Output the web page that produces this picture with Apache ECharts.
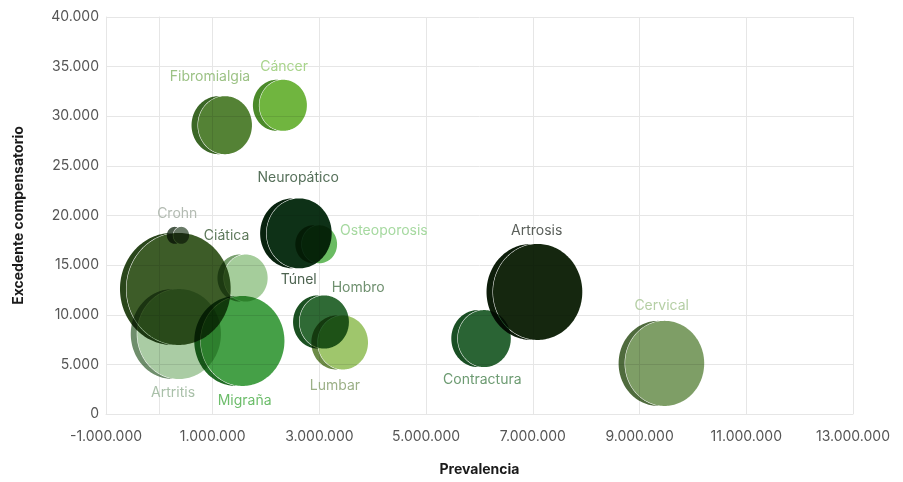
<!DOCTYPE html>
<html>
<head>
<meta charset="utf-8">
<script src="https://cdn.jsdelivr.net/npm/echarts@6/dist/echarts.min.js"></script>
<style>
  html, body { margin: 0; padding: 0; background: #fff; }
  #chart { width: 903px; height: 482px; }
</style>
</head>
<body>
<div id="chart"></div>
<script>
// datos
const nombres = ['Fibromialgia', 'Cáncer', 'Neuropático', 'Osteoporosis', 'Crohn', 'Ciática', 'Túnel',
  'Artritis', 'Migraña', 'Hombro', 'Lumbar', 'Contractura', 'Artrosis', 'Cervical'];
const prevalencia = [1230000, 2320000, 2620000, 3000000, 410000, 360000, 1620000,
  370000, 1560000, 3090000, 3440000, 6090000, 7090000, 9470000];
const excedente = [29100, 31100, 18200, 17100, 18000, 12600, 13700,
  8060, 7360, 9270, 7200, 7600, 12300, 5100];
const tamano = [210, 163, 306, 90, 18, 784, 138, 506, 506, 176, 182, 203, 576, 452];

// colores: cara, lateral, etiqueta
const colores = {
  'Fibromialgia': ['#548235', '#3b6726', '#9cc285'],
  'Cáncer': ['#70b53f', '#4b8a2a', '#a9d48c'],
  'Neuropático': ['#0e3117', '#08220e', '#56705a'],
  'Osteoporosis': ['#6abb62', '#44903f', '#a6d9a0'],
  'Crohn': ['#697a67', '#4a5a49', '#b3bbb2'],
  'Ciática': ['#3d5c28', '#2a461b', '#5f7a5c'],
  'Túnel': ['#a5cd9b', '#789f6e', '#4d6350'],
  'Artritis': ['#aacca4', '#6f8e6c', '#a9c0a9'],
  'Migraña': ['#45a047', '#216b25', '#6dbd6b'],
  'Hombro': ['#2f6a35', '#1b5021', '#6f906f'],
  'Lumbar': ['#9fc66c', '#6c8b47', '#9cb087'],
  'Contractura': ['#2a6434', '#1a4f24', '#6d9b72'],
  'Artrosis': ['#15270f', '#0d1d0a', '#5a5f5a'],
  'Cervical': ['#7e9e66', '#4f6b3d', '#b5cfa5']
};

// posicion de etiquetas: lado, desplazamiento, separacion
const etiquetas = {
  'Fibromialgia': ['top', -15, 12],
  'Cáncer': ['top', 1, 6],
  'Neuropático': ['top', -1, 14],
  'Osteoporosis': ['right', -13, 3],
  'Crohn': ['top', -4, 6],
  'Ciática': ['top', 48, -10],
  'Túnel': ['right', 2, 13],
  'Artritis': ['bottom', -6, 7],
  'Migraña': ['bottom', 2, 8],
  'Hombro': ['top', 34, 1],
  'Lumbar': ['bottom', -8, 9],
  'Contractura': ['bottom', -2, 6],
  'Artrosis': ['top', -1, 6],
  'Cervical': ['top', -3, 8]
};

const chart = echarts.init(document.getElementById('chart'));

function miles(v) {
  const s = String(Math.abs(v)).replace(/\B(?=(\d{3})+(?!\d))/g, '.');
  return (v < 0 ? '-' : '') + s;
}

function renderItem(params, api) {
  const nombre = nombres[params.dataIndex];
  const col = colores[nombre];
  const et = etiquetas[nombre];
  const p = api.coord([api.value(0), api.value(1)]);
  const d = Math.sqrt(api.value(2)) * 4;
  const ry = d / 2, rx = ry * 0.93;
  const cx = p[0], cy = p[1], bx = cx - 6.5;
  const gx = rx + 0.5, gy = ry + 0.5;
  const N = 180;

  const cara = [];
  for (let k = 0; k < N; k++) {
    const t = k / N * 2 * Math.PI;
    cara.push([cx + rx * Math.cos(t), cy + ry * Math.sin(t)]);
  }
  // lateral oscuro en forma de media luna
  const lado = [];
  for (let k = 0; k <= N; k++) {
    const t = k / N * 2 * Math.PI;
    const x = bx + rx * Math.cos(t), y = cy + ry * Math.sin(t);
    if (((x - cx) / gx) ** 2 + ((y - cy) / gy) ** 2 > 1) lado.push([x, y]);
  }
  for (let k = N; k >= 0; k--) {
    const t = Math.PI / 2 + k / N * Math.PI;
    const x = cx + gx * Math.cos(t), y = cy + gy * Math.sin(t);
    if (((x - bx) / rx) ** 2 + ((y - cy) / ry) ** 2 < 1) lado.push([x, y]);
  }

  let tx, ty, align = 'center';
  if (et[0] === 'top') { tx = cx + et[1]; ty = cy - ry - et[2] - 7; }
  else if (et[0] === 'bottom') { tx = cx + et[1]; ty = cy + ry + et[2] + 7; }
  else { tx = cx + rx + et[2]; ty = cy + et[1]; align = 'left'; }

  return {
    type: 'group',
    children: [
      { type: 'polygon', shape: { points: lado }, style: { fill: col[1] } },
      { type: 'polygon', shape: { points: cara }, style: { fill: col[0] } },
      {
        type: 'text', x: tx, y: ty,
        style: { text: nombre, fill: col[2], font: '14px Inter', align: align, verticalAlign: 'middle' }
      }
    ]
  };
}

const gris = '#e6e6e6';

const option = {
  animation: false,
  backgroundColor: '#ffffff',
  grid: { left: 106, right: 50, top: 17, bottom: 68 },
  xAxis: {
    type: 'value',
    min: -1000000, max: 13000000, interval: 2000000,
    name: 'Prevalencia', nameLocation: 'middle', nameGap: 49,
    nameTextStyle: { fontFamily: 'Inter', fontWeight: 'bold', fontSize: 14, color: '#1a1a1a' },
    axisLine: { onZero: false, lineStyle: { color: gris } },
    axisTick: { show: false },
    axisLabel: { formatter: miles, color: '#555', fontFamily: 'Inter', fontSize: 14, margin: 16 },
    splitLine: { lineStyle: { color: gris } }
  },
  yAxis: [{
    type: 'value',
    min: 0, max: 40000, interval: 5000,
    name: 'Excedente compensatorio', nameLocation: 'middle', nameGap: 80, nameRotate: 90,
    nameTextStyle: { fontFamily: 'Inter', fontWeight: 'bold', fontSize: 14, color: '#1a1a1a' },
    axisLine: { show: true, onZero: false, lineStyle: { color: gris } },
    axisTick: { show: false },
    axisLabel: { formatter: miles, color: '#555', fontFamily: 'Inter', fontSize: 14, margin: 7 },
    splitLine: { lineStyle: { color: gris } }
  }, {
    // linea vertical en x = 0
    type: 'value',
    min: 0, max: 40000, interval: 5000,
    axisLine: { show: true, onZero: true, lineStyle: { color: gris } },
    axisTick: { show: false },
    axisLabel: { show: false },
    splitLine: { show: false }
  }],
  series: [{
    type: 'custom',
    blendMode: 'multiply',
    renderItem: renderItem,
    data: nombres.map((n, i) => [prevalencia[i], excedente[i], tamano[i]])
  }]
};

chart.setOption(option);
</script>
</body>
</html>
